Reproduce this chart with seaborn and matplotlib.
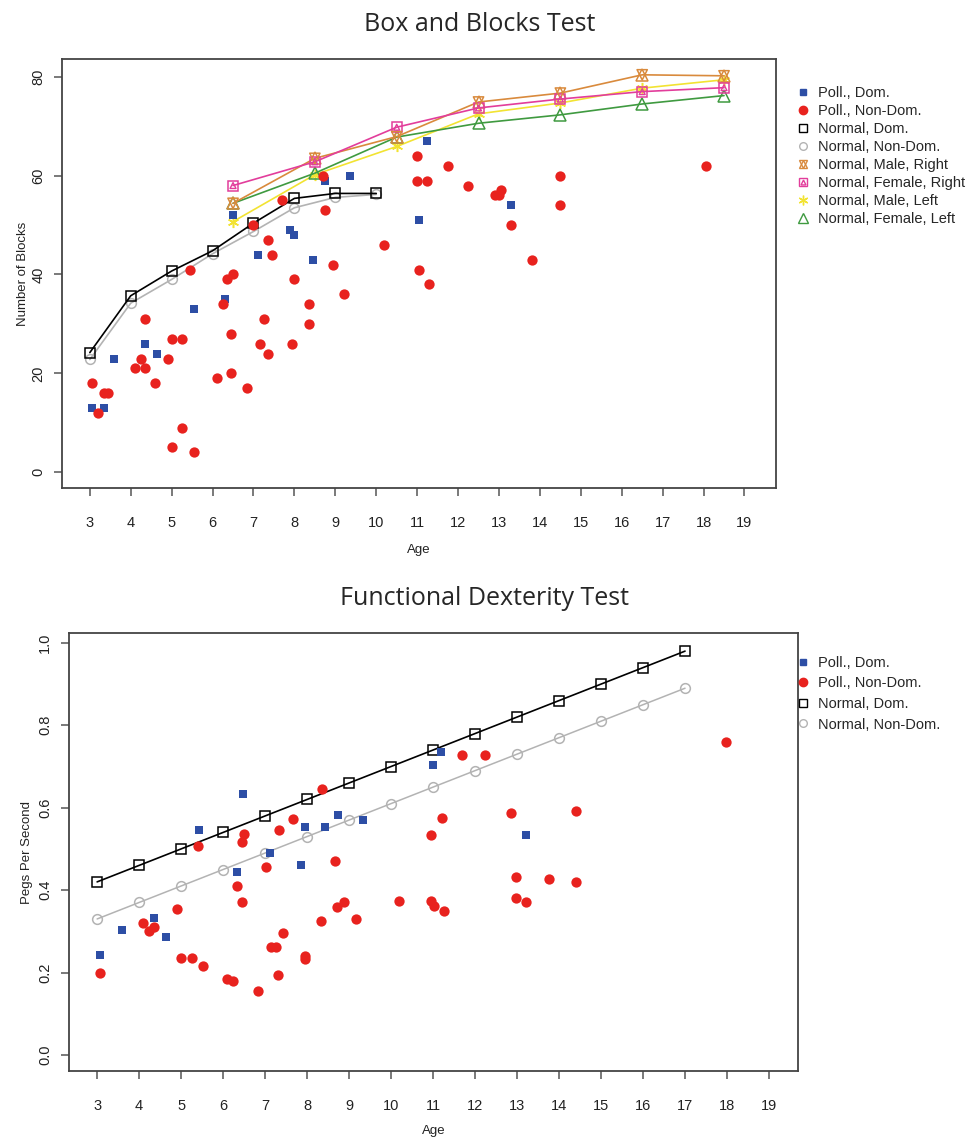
import numpy as np
import seaborn as sns
import matplotlib.pyplot as plt
from matplotlib.lines import Line2D

# ---- Box and Blocks data ----
bb_ages_normal = [3, 4, 5, 6, 7, 8, 9, 10]
bb_norm_dom = [24.2, 35.7, 40.7, 44.8, 50.4, 55.4, 56.4, 56.4]
bb_norm_nondom = [22.8, 34.2, 39.0, 44.2, 48.7, 53.5, 55.6, 56.2]

bb_ages_sex = [6.5, 8.5, 10.5, 12.5, 14.5, 16.5, 18.5]
bb_male_right = [54.4, 63.5, 67.9, 74.9, 76.7, 80.4, 80.2]
bb_female_right = [58.0, 62.8, 69.8, 73.7, 75.5, 77.0, 77.8]
bb_male_left = [50.7, 60.2, 65.9, 72.5, 74.7, 77.7, 79.4]
bb_female_left = [54.4, 60.5, 67.8, 70.6, 72.3, 74.5, 76.2]

bb_poll_dom_age = [3.05, 3.35, 3.6, 4.35, 4.65, 5.55, 6.3, 6.5, 7.1, 7.9, 8.0,
                   8.45, 8.75, 9.35, 11.25, 11.05, 13.3]
bb_poll_dom = [13, 13, 23, 26, 24, 33, 35, 52, 44, 49, 48,
               43, 59, 60, 67, 51, 54]

bb_poll_nondom_age = [3.05, 3.2, 3.35, 3.45, 4.1, 4.25, 4.35, 4.35, 4.6, 4.9,
                      5.0, 5.25, 5.0, 5.25, 5.55, 5.45, 6.1, 6.25, 6.35, 6.5,
                      6.45, 6.45, 6.85, 7.0, 7.15, 7.25, 7.35, 7.35, 7.45, 7.7,
                      8.0, 7.95, 8.35, 8.35, 8.75, 8.7, 8.95, 9.2, 10.2, 11.0,
                      11.0, 11.25, 11.05, 11.3, 11.75, 12.25, 12.9, 13.0, 13.05,
                      13.3, 13.8, 14.5, 14.5, 18.05]
bb_poll_nondom = [18, 12, 16, 16, 21, 23, 21, 31, 18, 23,
                  27, 27, 5, 9, 4, 41, 19, 34, 39, 40,
                  28, 20, 17, 50, 26, 31, 24, 47, 44, 55,
                  39, 26, 34, 30, 53, 60, 42, 36, 46, 64,
                  59, 59, 41, 38, 62, 58, 56, 56, 57,
                  50, 43, 60, 54, 62]

# ---- Functional Dexterity data ----
fd_ages_normal = [3, 4, 5, 6, 7, 8, 9, 10, 11, 12, 13, 14, 15, 16, 17]
fd_norm_dom = [0.42, 0.46, 0.50, 0.54, 0.58, 0.62, 0.66, 0.70, 0.74, 0.78,
               0.82, 0.86, 0.90, 0.94, 0.98]
fd_norm_nondom = [0.33, 0.37, 0.41, 0.45, 0.49, 0.53, 0.57, 0.61, 0.65, 0.69,
                  0.73, 0.77, 0.81, 0.85, 0.89]

fd_poll_dom_age = [3.08, 3.6, 4.35, 4.65, 5.42, 6.32, 6.48, 7.12, 7.86, 7.96,
                   8.43, 8.74, 9.33, 11.2, 11.0, 13.22]
fd_poll_dom = [0.243, 0.303, 0.333, 0.285, 0.545, 0.445, 0.633, 0.49, 0.46, 0.552,
               0.552, 0.583, 0.569, 0.734, 0.703, 0.533]

fd_poll_nondom_age = [3.08, 4.1, 4.24, 4.35, 4.9, 5.0, 5.25, 5.52, 5.41, 6.1,
                      6.24, 6.34, 6.44, 6.44, 6.49, 6.84, 7.02, 7.13, 7.25, 7.31,
                      7.33, 7.43, 7.66, 7.94, 7.94, 8.35, 8.32, 8.67, 8.72, 8.88,
                      9.17, 10.2, 10.94, 11.22, 11.68, 12.23, 10.96, 11.01, 11.27,
                      12.86, 12.98, 12.97, 13.22, 13.75, 14.41, 14.41, 17.97]
fd_poll_nondom = [0.20, 0.32, 0.30, 0.31, 0.355, 0.235, 0.235, 0.215, 0.508, 0.185,
                  0.18, 0.41, 0.372, 0.516, 0.536, 0.156, 0.457, 0.262, 0.262, 0.195,
                  0.547, 0.295, 0.572, 0.24, 0.233, 0.645, 0.326, 0.47, 0.36, 0.372,
                  0.33, 0.374, 0.533, 0.574, 0.728, 0.728, 0.374, 0.362, 0.35,
                  0.588, 0.431, 0.38, 0.371, 0.427, 0.593, 0.42, 0.759]

x_ticks = list(range(3, 20))

BLUE = "#2d4ea5"
RED = "#e8221e"
GRAY = "#b3b3b3"
ORANGE = "#d98a3c"
PINK = "#e23d9b"
YELLOW = "#f2e332"
GREEN = "#3f9a40"

sns.set_style("ticks")
plt.rcParams['font.family'] = ['Liberation Sans', 'DejaVu Sans']

fig = plt.figure(figsize=(9.69, 11.46), dpi=100)
ax1 = fig.add_axes([62 / 969, 1 - 488 / 1146, 714 / 969, 429 / 1146])
ax2 = fig.add_axes([69 / 969, 1 - 1071 / 1146, 729 / 969, 438 / 1146])


def style_axes(ax, xlim, ylim, yticks, ylabel, xpad, ypad):
    ax.set_xlim(*xlim)
    ax.set_ylim(*ylim)
    ax.set_xticks(x_ticks)
    ax.set_yticks(yticks)
    for sp in ax.spines.values():
        sp.set_visible(True)
        sp.set_color("#444444")
        sp.set_linewidth(1.3)
    ax.tick_params(axis="both", direction="out", length=6, width=1.1,
                   color="#555555", labelsize=10.5, labelcolor="#222222")
    ax.tick_params(axis="x", pad=14)
    ax.tick_params(axis="y", pad=6)
    for lab in ax.get_yticklabels():
        lab.set_rotation(90)
        lab.set_va("center")
    ax.set_xlabel("Age", fontsize=9.5, labelpad=xpad, color="#222222")
    ax.set_ylabel(ylabel, fontsize=9.5, labelpad=ypad, color="#222222")


def open_line(ax, x, y, color, marker, ms=7, lw=1.2, mew=1.1):
    sns.lineplot(x=x, y=y, ax=ax, color=color, linewidth=lw, marker=marker,
                 markersize=ms, markerfacecolor="none", markeredgecolor=color,
                 markeredgewidth=mew)


def scatter(ax, x, y, color, marker, s):
    sns.scatterplot(x=x, y=y, ax=ax, color=color, marker=marker, s=s,
                    edgecolor=color, linewidth=0, zorder=3)


# ---- top chart ----
scatter(ax1, bb_poll_dom_age, bb_poll_dom, BLUE, "s", 40)
scatter(ax1, bb_poll_nondom_age, bb_poll_nondom, RED, "o", 55)
open_line(ax1, bb_ages_normal, bb_norm_nondom, GRAY, "o")
open_line(ax1, bb_ages_normal, bb_norm_dom, "black", "s")
open_line(ax1, bb_ages_sex, bb_male_left, YELLOW, (6, 2, 0), ms=8)
open_line(ax1, bb_ages_sex, bb_female_left, GREEN, "^", ms=8)
open_line(ax1, bb_ages_sex, bb_male_right, ORANGE, "^", ms=8)
sns.scatterplot(x=bb_ages_sex, y=bb_male_right, ax=ax1, marker="v", s=55,
                facecolor="none", edgecolor=ORANGE, linewidth=1.1, zorder=4)
open_line(ax1, bb_ages_sex, bb_female_right, PINK, "s", ms=7.5)
sns.scatterplot(x=bb_ages_sex, y=bb_female_right, ax=ax1, marker="^", s=18,
                facecolor="none", edgecolor=PINK, linewidth=1.0, zorder=4)

style_axes(ax1, (2.32, 19.77), (-3.2, 83.6), [0, 20, 40, 60, 80],
           "Number of Blocks", 10, 2)
ax1.set_title("Box and Blocks Test", fontsize=18, family="Open Sans",
              pad=20, x=(480 - 62) / 714)


def mk(marker, color, filled, ms=6):
    return Line2D([], [], linestyle="none", marker=marker, markersize=ms,
                  markerfacecolor=color if filled else "none",
                  markeredgecolor=color, markeredgewidth=1.0)


h_blue = mk("s", BLUE, True, 5)
h_red = mk("o", RED, True, 6)
h_dom = mk("s", "black", False, 5.5)
h_nondom = mk("o", GRAY, False, 5.5)
h_mr = (mk("^", ORANGE, False, 6), mk("v", ORANGE, False, 6))
h_fr = (mk("s", PINK, False, 6), mk("^", PINK, False, 3.5))
h_ml = mk((6, 2, 0), YELLOW, False, 7)
h_fl = mk("^", GREEN, False, 6.5)

labels_top = ["Poll., Dom.", "Poll., Non-Dom.", "Normal, Dom.", "Normal, Non-Dom.",
              "Normal, Male, Right", "Normal, Female, Right", "Normal, Male, Left",
              "Normal, Female, Left"]
ax1.legend([h_blue, h_red, h_dom, h_nondom, h_mr, h_fr, h_ml, h_fl], labels_top,
           loc="upper left", bbox_to_anchor=(790 / 969, 1 - 80 / 1146),
           bbox_transform=fig.transFigure, frameon=False, fontsize=10.5,
           handlelength=1.0, handletextpad=0.5, labelspacing=0.28,
           borderaxespad=0)

# ---- bottom chart ----
scatter(ax2, fd_poll_dom_age, fd_poll_dom, BLUE, "s", 40)
scatter(ax2, fd_poll_nondom_age, fd_poll_nondom, RED, "o", 55)
open_line(ax2, fd_ages_normal, fd_norm_nondom, GRAY, "o", lw=1.1)
open_line(ax2, fd_ages_normal, fd_norm_dom, "black", "s")

style_axes(ax2, (2.33, 19.69), (-0.039, 1.024), [0.0, 0.2, 0.4, 0.6, 0.8, 1.0],
           "Pegs Per Second", 9, 4)
ax2.set_yticklabels(["0.0", "0.2", "0.4", "0.6", "0.8", "1.0"], rotation=90, va="center")
ax2.set_title("Functional Dexterity Test", fontsize=18, family="Open Sans",
              pad=20, x=(484 - 69) / 729)

ax2.legend([h_blue, h_red, h_dom, h_nondom], labels_top[:4],
           loc="upper left", bbox_to_anchor=(790 / 969, 1 - 650 / 1146),
           bbox_transform=fig.transFigure, frameon=False, fontsize=10.5,
           handlelength=1.0, handletextpad=0.5, labelspacing=0.45,
           borderaxespad=0)

fig.savefig("out.png", dpi=100, facecolor="white")
